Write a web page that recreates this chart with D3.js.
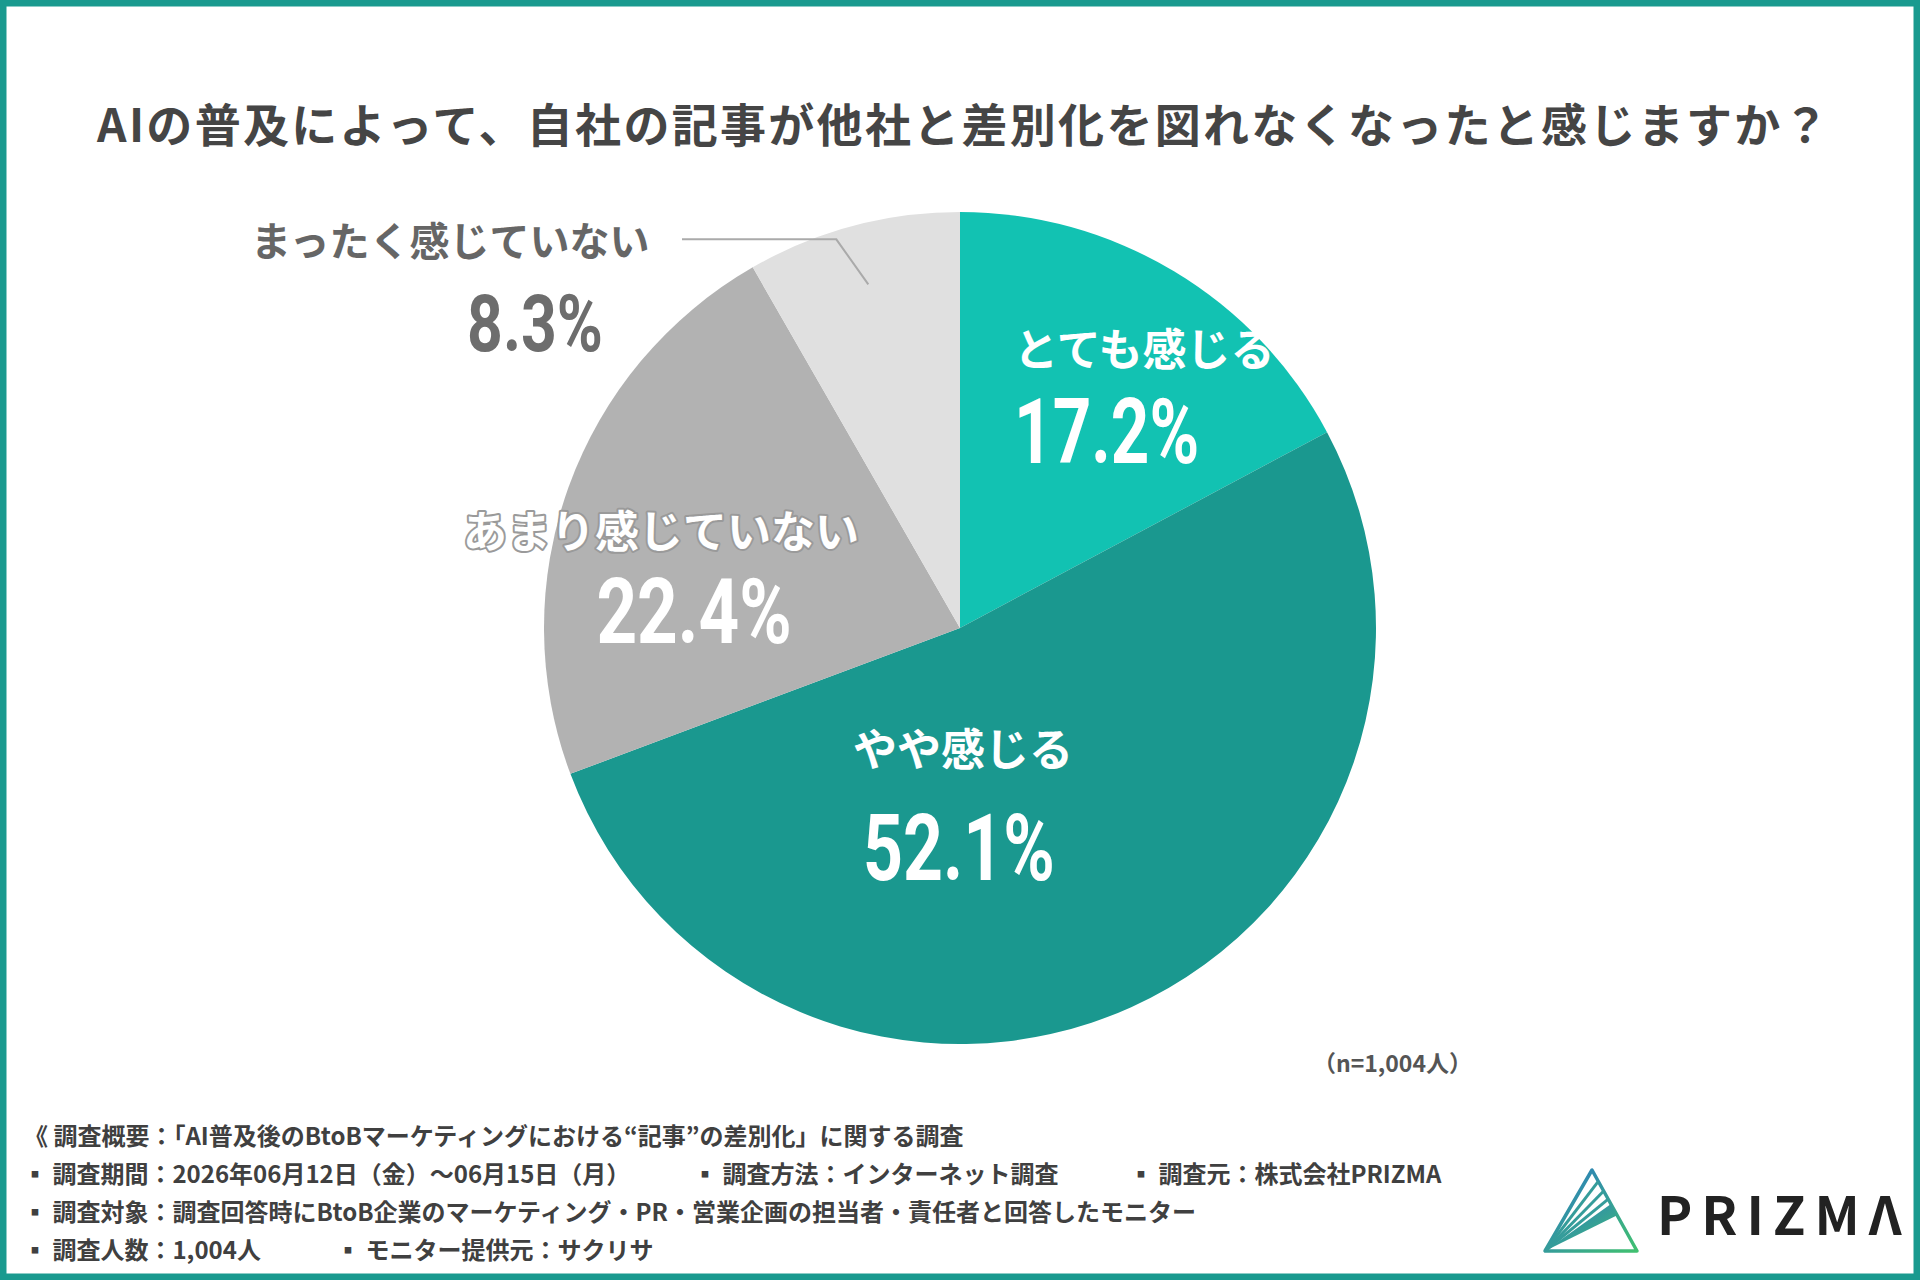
<!DOCTYPE html>
<html>
<head>
<meta charset="utf-8">
<script src="https://cdn.jsdelivr.net/npm/d3@7"></script>
<style>
  body { margin: 0; background: #fff; }
  text { font-family: "Noto Sans CJK JP", "Noto Sans", sans-serif; font-weight: 700; }
  .num { font-family: Roboto, "Liberation Sans", sans-serif; font-weight: 700; }
</style>
</head>
<body>
<div id="chart"></div>
<script>
// Chart data
var categories = ["とても感じる", "やや感じる", "あまり感じていない", "まったく感じていない"];
var percents = [17.2, 52.1, 22.4, 8.3];
var colors = ["#12c2b2", "#1a988f", "#b2b2b2", "#e0e0e0"];

var title = "AIの普及によって、自社の記事が他社と差別化を図れなくなったと感じますか？";
var sampleNote = "（n=1,004人）";
var footerLines = [
    ["《 調査概要：「AI普及後のBtoBマーケティングにおける“記事”の差別化」に関する調査"],
    ["▪ 調査期間：2026年06月12日（金）〜06月15日（月）", "▪ 調査方法：インターネット調査", "▪ 調査元：株式会社PRIZMA"],
    ["▪ 調査対象：調査回答時にBtoB企業のマーケティング・PR・営業企画の担当者・責任者と回答したモニター"],
    ["▪ 調査人数：1,004人", "▪ モニター提供元：サクリサ"]
];

// SVG area
var svgWidth = 1920;
var svgHeight = 1280;
var cx = 960, cy = 628, radius = 416;

var svg = d3.select("#chart")
    .append("svg")
    .attr("width", svgWidth)
    .attr("height", svgHeight);

// Frame
svg.append("rect")
    .attr("x", 3).attr("y", 3)
    .attr("width", svgWidth - 6).attr("height", svgHeight - 6)
    .attr("fill", "none")
    .attr("stroke", "#1a9a8f")
    .attr("stroke-width", 7);

// Title
svg.append("text")
    .attr("x", 964).attr("y", 122)
    .attr("text-anchor", "middle")
    .attr("dominant-baseline", "central")
    .attr("font-size", 46)
    .attr("letter-spacing", 2.3)
    .attr("fill", "#454545")
    .text(title);

// Pie
var pie = d3.pie().sort(null).value(d => d);
var arc = d3.arc().innerRadius(0).outerRadius(radius);
var arcs = pie(percents);

var chartGroup = svg.append("g")
    .attr("transform", `translate(${cx}, ${cy})`);

chartGroup.selectAll("path.slice")
    .data(arcs)
    .enter()
    .append("path")
    .attr("class", "slice")
    .attr("d", arc)
    .attr("fill", (d, i) => colors[i]);

// Leader line for the smallest slice
var leaderArc = d3.arc().innerRadius(radius * 0.855).outerRadius(radius * 0.855);
var p0 = leaderArc.centroid(arcs[3]);
var p1 = [p0[0] - 32, p0[1] - 45];
chartGroup.append("polyline")
    .attr("points", [p0, p1, [682 - cx, p1[1]]].map(p => p.join(",")).join(" "))
    .attr("fill", "none")
    .attr("stroke", "#aaaaaa")
    .attr("stroke-width", 2);

// Label placement (absolute page coords)
var labelPos = [
    { name: [1014, 347, "start", 44, "#fff"], num: [1014, 463, "start", 91, "#fff", 0.74] },
    { name: [963, 747, "middle", 44, "#fff"], num: [959, 880, "middle", 93, "#fff", 0.75] },
    { name: [661, 529, "middle", 44, "#fff", true], num: [694, 643, "middle", 91, "#fff", 0.78] },
    { name: [251, 239, "start", 40, "#666"], num: [535, 351, "middle", 80, "#6d6d6d", 0.78] }
];

labelPos.forEach(function (lp, i) {
    var n = lp.name;
    var t = svg.append("text")
        .attr("x", n[0]).attr("y", n[1])
        .attr("text-anchor", n[2])
        .attr("dominant-baseline", "central")
        .attr("font-size", n[3])
        .attr("fill", n[4])
        .text(categories[i]);
    if (n[5]) {
        t.attr("stroke", "#9a9a9a").attr("stroke-width", 4)
            .attr("paint-order", "stroke").attr("stroke-linejoin", "round");
    }
    var m = lp.num;
    svg.append("text")
        .attr("class", "num")
        .attr("transform", `translate(${m[0]}, ${m[1]}) scale(${m[5]}, 1)`)
        .attr("text-anchor", m[2])
        .attr("font-size", m[3])
        .attr("fill", m[4])
        .text(percents[i].toFixed(1) + "%");
});

// Sample size note
svg.append("text")
    .attr("x", 1472).attr("y", 1062)
    .attr("text-anchor", "end")
    .attr("dominant-baseline", "central")
    .attr("font-size", 23)
    .attr("fill", "#555")
    .text(sampleNote);

// Footer
var footerX = [[24], [23, 693, 1129], [23], [23, 336]];
footerLines.forEach(function (line, r) {
    line.forEach(function (s, c) {
        svg.append("text")
            .attr("x", footerX[r][c]).attr("y", 1134 + r * 38)
            .attr("dominant-baseline", "central")
            .attr("font-size", 24)
            .attr("fill", "#404040")
            .text(s);
    });
});

// Logo
var defs = svg.append("defs");
var grad = defs.append("linearGradient")
    .attr("id", "logoGrad")
    .attr("x1", "0%").attr("y1", "0%").attr("x2", "100%").attr("y2", "100%");
grad.append("stop").attr("offset", "0%").attr("stop-color", "#2a78c4");
grad.append("stop").attr("offset", "100%").attr("stop-color", "#40c070");

var A = [1592, 1170], B = [1545, 1251], C = [1637, 1251];
var logo = svg.append("g");
logo.append("path")
    .attr("d", `M${A}L${B}L${C}Z`)
    .attr("fill", "none")
    .attr("stroke", "url(#logoGrad)")
    .attr("stroke-width", 3.5)
    .attr("stroke-linejoin", "round");
function onEdge(t) { return [A[0] + (C[0] - A[0]) * t, A[1] + (C[1] - A[1]) * t]; }
[0.14, 0.26, 0.36].forEach(function (t) {
    logo.append("path")
        .attr("d", `M${B}L${onEdge(t)}`)
        .attr("stroke", "url(#logoGrad)")
        .attr("stroke-width", 3);
});
logo.append("path")
    .attr("d", `M${B}L${onEdge(0.42)}L${onEdge(0.56)}Z`)
    .attr("fill", "url(#logoGrad)");

svg.append("text")
    .attr("x", 1657).attr("y", 1235)
    .attr("font-family", "'Noto Sans', sans-serif")
    .attr("font-weight", 500)
    .attr("font-size", 53)
    .attr("letter-spacing", 9)
    .attr("fill", "#222")
    .text("PRIZMΛ");
</script>
</body>
</html>
